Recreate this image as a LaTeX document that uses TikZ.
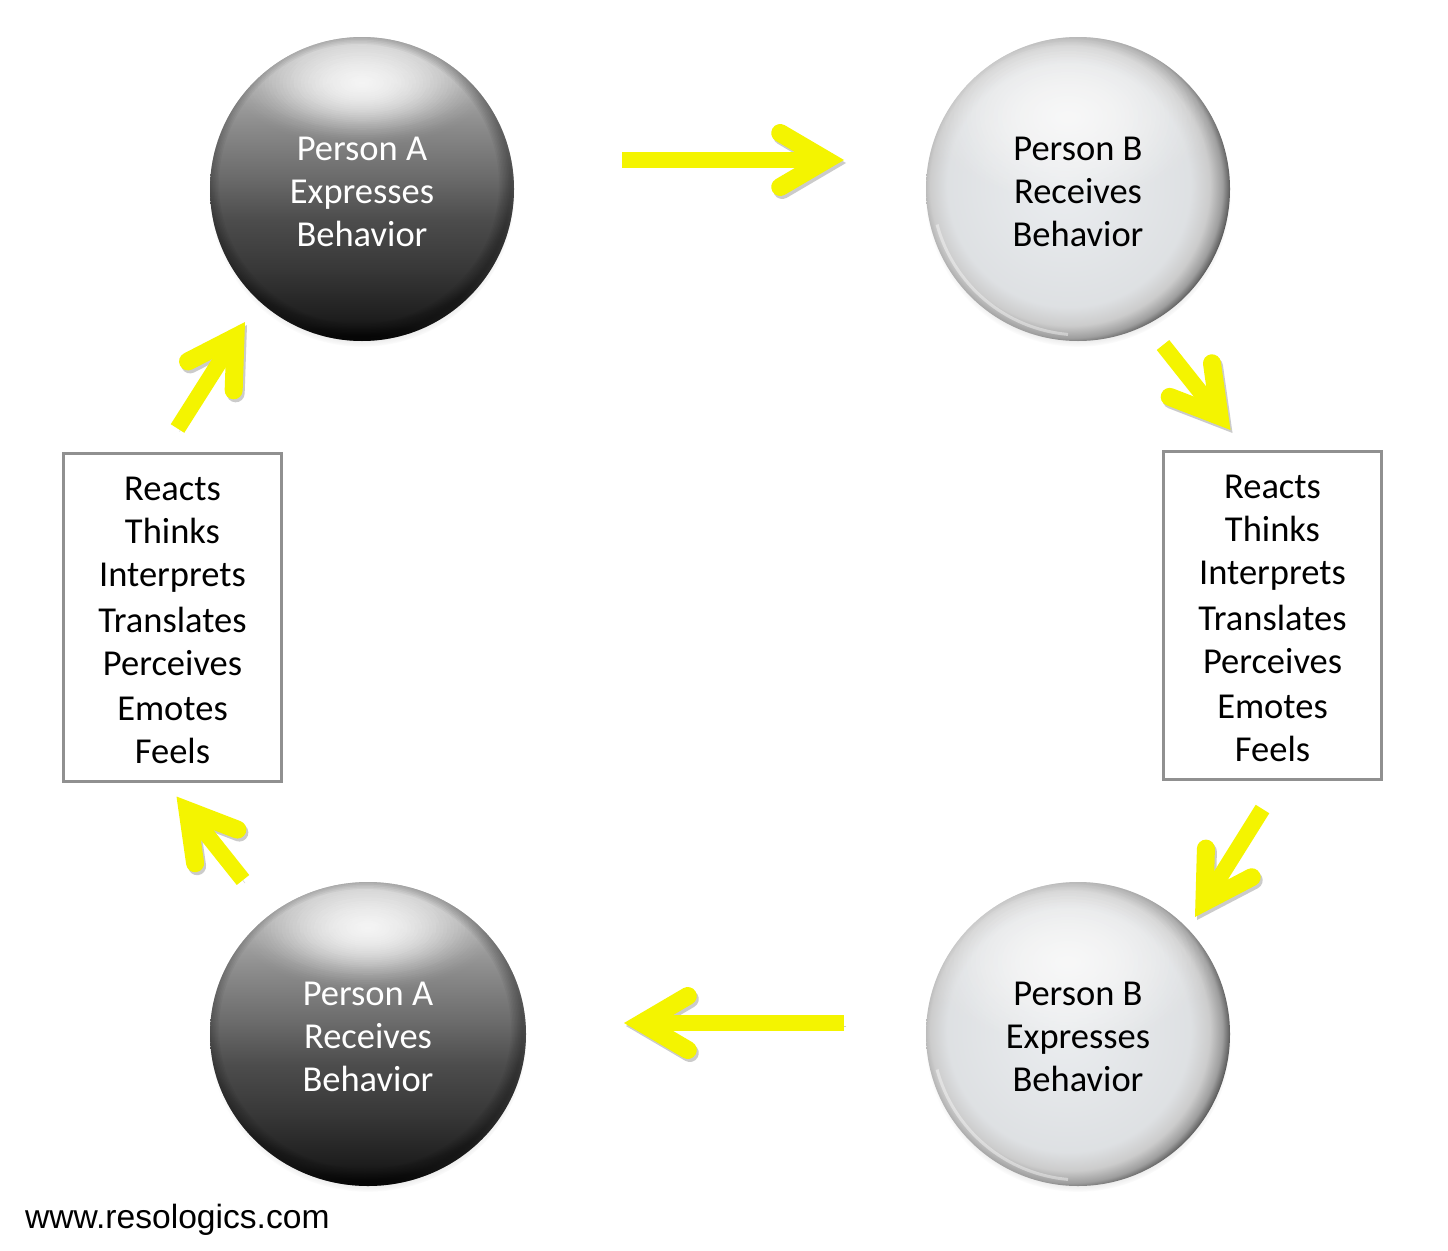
\documentclass[tikz,border=0pt]{standalone}
\usepackage{fontspec}
\setmainfont{Carlito}
\newfontfamily\urlfont{Liberation Sans}
\usetikzlibrary{arrows.meta,shapes.geometric,shadows}
\definecolor{arrowyellow}{RGB}{244,244,0}
\definecolor{boxgray}{RGB}{144,144,144}
\newcommand{\topgap}{\rule{0pt}{30pt}}
\pgfdeclareverticalshading{darkballshade}{100bp}{
  rgb(0bp)=(.04,.04,.04);rgb(25bp)=(.04,.04,.04);rgb(29bp)=(.12,.12,.12);rgb(37bp)=(.22,.22,.22);rgb(45bp)=(.3,.3,.3);
  rgb(52bp)=(.42,.42,.42);rgb(60bp)=(.54,.54,.54);rgb(68bp)=(.68,.68,.68);rgb(75bp)=(.78,.78,.78);rgb(100bp)=(.78,.78,.78)}
\pgfdeclareradialshading{lightballshade}{\pgfpoint{-2.5bp}{1bp}}{
  rgb(0bp)=(.92,.93,.94);rgb(20bp)=(.87,.88,.89);rgb(23bp)=(.8,.8,.8);rgb(25bp)=(.62,.62,.62);
  rgb(26bp)=(.4,.4,.4);rgb(27bp)=(.08,.08,.08);rgb(50bp)=(.08,.08,.08)}
\tikzset{
  ballrx/.store in=\ballrx,ballrx=152pt,
  ball/.style={circle,minimum size=304pt,inner sep=0pt,outer sep=0pt,align=center,
    font=\fontsize{36.5}{43}\selectfont,
    circular drop shadow={shadow xshift=0pt,shadow yshift=-5pt,shadow scale=1.005,opacity=.5}},
  darkball/.style={ball,shading=darkballshade,text=white,
    path picture={\foreach \k in {1,...,36} \fill[white,opacity={.16*(1-\k/36)+.006}] ([yshift=106pt]path picture bounding box.center) ellipse ({\k*3.6pt} and {\k*1.8pt});
      \foreach \k in {1,...,8} \draw[black,opacity=.04,line width=\k*3pt] ([xshift=-3pt,yshift=5pt]path picture bounding box.center) ellipse ({\ballrx} and {152pt});}},
  lightball/.style={ball,shading=lightballshade,text=black,
    path picture={\foreach \k in {1,...,36} \fill[white,opacity={.16*(1-\k/36)+.006}] ([xshift=-10pt,yshift=72pt]path picture bounding box.center) ellipse ({\k*4.4pt} and {\k*3pt});
      \draw[white,line width=3pt,opacity=.4] ([xshift=3pt,yshift=3pt]path picture bounding box.center) ++(195:149pt) arc (195:265:149pt);}},
  stepsbox/.style={draw=boxgray,line width=3pt,minimum width=218pt,minimum height=328pt,inner sep=0pt,
    align=center,font=\fontsize{36.5}{43}\selectfont},
  flowarrow/.style={draw=arrowyellow,line width=16pt,
    -{Straight Barb[length=46pt,width=54pt,line width=18pt,line cap=round,line join=miter]},
    preaction={draw=black!45,opacity=.45,transform canvas={shift={(2pt,-3pt)}}}}
}
\begin{document}
\begin{tikzpicture}[x=1pt,y=1pt]
\useasboundingbox[fill=white] (0,0) rectangle (1448,-1250);

\node (pa1) [darkball] at (362,-189) {\topgap Person A\\Expresses\\Behavior};
\node (pb1) [lightball] at (1078,-189) {\topgap Person B\\Receives\\Behavior};
\node (pb2) [lightball] at (1078,-1034) {\topgap Person B\\Expresses\\Behavior};
\node (pa2) [darkball,ellipse,ballrx=158pt,minimum width=316pt,minimum height=304pt] at (368,-1034) {\topgap Person A\\Receives\\Behavior};

\node (rb) [stepsbox] at (1272.5,-615.5) {\topgap Reacts\\Thinks\\Interprets\\[3pt]Translates\\Perceives\\[2pt]Emotes\\Feels};
\node (ra) [stepsbox] at (172.5,-617) {\topgap Reacts\\Thinks\\Interprets\\[3pt]Translates\\Perceives\\[2pt]Emotes\\Feels};

\node (url) [anchor=west,inner sep=0pt,font=\urlfont\fontsize{33.6}{36}\selectfont,text=black] at (25,-1220) {www.resologics.com};

\draw[flowarrow] ([xshift=108pt,yshift=29pt]pa1.east)--([xshift=-82pt,yshift=29pt]pb1.west);
\draw[flowarrow] ([xshift=85pt,yshift=-4pt]pb1.south)--([xshift=-42pt,yshift=20pt]rb.north);
\draw[flowarrow] ([xshift=-10pt,yshift=-28pt]rb.south)--([xshift=117pt,yshift=-35pt]pb2.north);
\draw[flowarrow] ([xshift=-82pt,yshift=11pt]pb2.west)--([xshift=98pt,yshift=11pt]pa2.east);
\draw[flowarrow] ([xshift=-125pt,yshift=2pt]pa2.north)--([xshift=4pt,yshift=-14pt]ra.south);
\draw[flowarrow] ([xshift=5pt,yshift=23pt]ra.north)--([xshift=-117pt,yshift=19pt]pa1.south);
\end{tikzpicture}
\end{document}
